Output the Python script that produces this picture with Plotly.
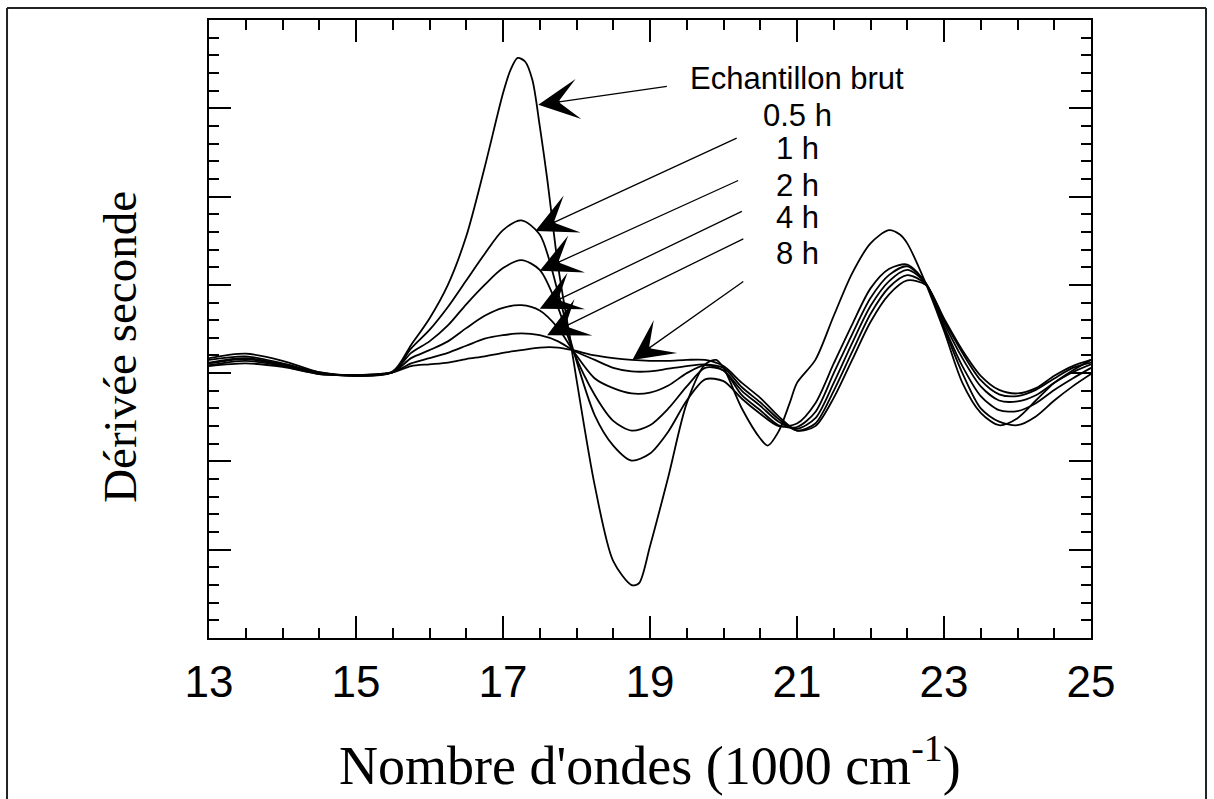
import plotly.graph_objects as go

# ---- data (wavenumber in 1000 cm-1, second derivative in arbitrary units) ----
x_common = [13.0, 13.5, 14.0, 14.5, 15.0, 15.5, 15.75, 16.0, 16.25, 16.5, 16.75, 17.0,
            17.25, 17.5, 17.75, 17.95, 18.25, 18.5, 18.75, 19.0, 19.25, 19.5, 19.75, 20.0,
            20.25, 20.5, 20.75, 21.0, 21.25, 21.5, 21.75, 22.0, 22.25, 22.5, 22.75, 23.0,
            23.25, 23.5, 23.75, 24.0, 24.25, 24.5, 24.75, 25.0]

raw_x = [13.0, 13.5, 14.0, 14.5, 15.0, 15.5, 15.75, 16.0, 16.25, 16.5, 16.75, 17.0,
         17.1, 17.2, 17.3, 17.4, 17.5, 17.6, 17.75, 17.9, 18.0, 18.25, 18.5, 18.75,
         18.85, 19.0, 19.25, 19.5, 19.75, 19.9, 20.0, 20.25, 20.5, 20.6, 20.75, 20.9,
         21.0, 21.25, 21.5, 21.75, 22.0, 22.25, 22.4, 22.5, 22.75, 23.0, 23.25, 23.5,
         23.75, 24.0, 24.25, 24.5, 24.75, 25.0]
raw_y = [0.17, 0.22, 0.14, 0.01, -0.03, 0.02, 0.32, 0.62, 1.00, 1.55, 2.33, 3.17,
         3.43, 3.57, 3.53, 3.32, 2.80, 2.21, 1.21, 0.45, -0.07, -1.28, -2.13, -2.40,
         -2.38, -1.96, -1.17, -0.34, 0.10, 0.15, 0.06, -0.40, -0.74, -0.82, -0.66, -0.34,
         -0.11, 0.15, 0.65, 1.13, 1.47, 1.62, 1.57, 1.47, 1.02, 0.48, -0.11, -0.45,
         -0.59, -0.51, -0.31, -0.11, 0.03, 0.15]

y_05h = [0.15, 0.19, 0.11, 0.01, -0.03, 0.01, 0.28, 0.49, 0.75, 1.05, 1.35, 1.62,
         1.73, 1.57, 0.91, 0.28, -0.48, -0.82, -0.99, -0.91, -0.66, -0.31, -0.07, -0.09,
         -0.29, -0.46, -0.60, -0.57, -0.34, 0.11, 0.55, 0.96, 1.18, 1.23, 1.02, 0.51,
         0.00, -0.40, -0.55, -0.59, -0.49, -0.31, -0.15, -0.01]
y_1h = [0.12, 0.17, 0.10, 0.00, -0.03, 0.01, 0.23, 0.36, 0.54, 0.78, 1.00, 1.19,
        1.28, 1.17, 0.74, 0.26, -0.25, -0.54, -0.65, -0.59, -0.40, -0.15, 0.06, 0.03,
        -0.25, -0.42, -0.59, -0.61, -0.44, 0.00, 0.44, 0.85, 1.11, 1.21, 1.02, 0.53,
        0.08, -0.26, -0.42, -0.43, -0.34, -0.19, -0.06, 0.06]
y_2h = [0.11, 0.16, 0.09, 0.00, -0.02, 0.01, 0.17, 0.26, 0.36, 0.51, 0.65, 0.74,
        0.77, 0.71, 0.51, 0.26, -0.06, -0.17, -0.23, -0.22, -0.14, 0.00, 0.09, 0.03,
        -0.20, -0.37, -0.55, -0.63, -0.51, -0.11, 0.34, 0.76, 1.04, 1.17, 1.02, 0.57,
        0.17, -0.15, -0.31, -0.32, -0.25, -0.11, 0.01, 0.10]
y_4h = [0.09, 0.14, 0.08, -0.01, -0.02, 0.01, 0.11, 0.17, 0.23, 0.31, 0.39, 0.43,
        0.45, 0.43, 0.36, 0.26, 0.15, 0.06, 0.02, 0.02, 0.05, 0.08, 0.10, 0.06,
        -0.16, -0.33, -0.52, -0.65, -0.57, -0.20, 0.24, 0.67, 0.97, 1.11, 1.01, 0.60,
        0.23, -0.08, -0.24, -0.26, -0.19, -0.06, 0.06, 0.12]
y_8h = [0.08, 0.11, 0.07, -0.01, -0.02, 0.01, 0.08, 0.10, 0.12, 0.16, 0.19, 0.23,
        0.26, 0.29, 0.29, 0.26, 0.20, 0.17, 0.15, 0.14, 0.14, 0.15, 0.15, 0.08,
        -0.11, -0.28, -0.49, -0.65, -0.60, -0.28, 0.15, 0.58, 0.89, 1.05, 1.00, 0.62,
        0.26, -0.03, -0.19, -0.23, -0.17, -0.03, 0.08, 0.15]

x_ticks = [13, 15, 17, 19, 21, 23, 25]

label_text = ["Echantillon brut", "0.5 h", "1 h", "2 h", "4 h", "8 h"]
label_x = [21.0, 21.0, 21.0, 21.0, 21.0, 21.0]
label_y = [3.34, 2.92, 2.55, 2.13, 1.76, 1.36]
arrow_tip_x = [17.48, 17.44, 17.50, 17.50, 17.60, 18.76]
arrow_tip_y = [3.04, 1.61, 1.16, 0.73, 0.43, 0.15]
arrow_tail_x = [19.25, 20.20, 20.22, 20.27, 20.29, 20.29]
arrow_tail_y = [3.25, 2.67, 2.19, 1.84, 1.53, 1.05]

# ---- figure ----
fig = go.Figure()
line_style = dict(color="black", width=1.8, shape="spline", smoothing=0.8)
fig.add_trace(go.Scatter(x=raw_x, y=raw_y, mode="lines", line=line_style, name="Echantillon brut"))
for name, ys in [("0.5 h", y_05h), ("1 h", y_1h), ("2 h", y_2h), ("4 h", y_4h), ("8 h", y_8h)]:
    fig.add_trace(go.Scatter(x=x_common, y=ys, mode="lines", line=line_style, name=name))

annotations = []
for t, lx, ly in zip(label_text, label_x, label_y):
    annotations.append(dict(x=lx, y=ly, xref="x", yref="y", text=t, showarrow=False,
                            font=dict(family="Liberation Sans, Arial, sans-serif", size=31, color="black"),
                            xanchor="center", yanchor="middle"))
for tx, ty, ax, ay in zip(arrow_tip_x, arrow_tip_y, arrow_tail_x, arrow_tail_y):
    annotations.append(dict(x=tx, y=ty, xref="x", yref="y", ax=ax, ay=ay, axref="x", ayref="y",
                            text="", showarrow=True, arrowhead=3, arrowsize=5.2, arrowwidth=1.3,
                            arrowcolor="black", standoff=0))
annotations.append(dict(x=-0.101, y=0.471, xref="paper", yref="paper", text="Dérivée seconde",
                        textangle=-90, showarrow=False,
                        font=dict(family="Liberation Serif, Times New Roman, serif", size=47, color="black"),
                        xanchor="center", yanchor="middle"))
annotations.append(dict(x=0.5, y=-0.20, xref="paper", yref="paper",
                        text="Nombre d'ondes (1000 cm<sup>-1</sup>)", showarrow=False,
                        font=dict(family="Liberation Serif, Times New Roman, serif", size=54, color="black"),
                        xanchor="center", yanchor="middle"))

frame = dict(color="#222", width=2)
shapes = [
    dict(type="line", xref="paper", yref="paper", x0=-0.229, x1=1.1304, y0=1.0194, y1=1.0194, line=frame),
    dict(type="line", xref="paper", yref="paper", x0=-0.229, x1=-0.229, y0=1.0194, y1=-0.27, line=frame),
    dict(type="line", xref="paper", yref="paper", x0=1.1304, x1=1.1304, y0=1.0194, y1=-0.27, line=frame),
]

fig.update_layout(
    width=1214, height=799,
    margin=dict(l=209, r=123, t=20, b=161),
    paper_bgcolor="white", plot_bgcolor="white",
    showlegend=False,
    annotations=annotations,
    shapes=shapes,
    xaxis=dict(range=[13, 25], tickvals=x_ticks, ticktext=[str(v) for v in x_ticks],
               showline=True, linecolor="black", linewidth=2, mirror="ticks",
               ticks="inside", ticklen=22, tickwidth=1.5, tickcolor="black",
               minor=dict(dtick=0.5, tick0=13, ticks="inside", ticklen=10, tickwidth=1.5, tickcolor="black"),
               showgrid=False, zeroline=False, ticklabelstandoff=4,
               tickfont=dict(family="Liberation Sans, Arial, sans-serif", size=44, color="black")),
    yaxis=dict(range=[-3, 4], dtick=1, tick0=0,
               showline=True, linecolor="black", linewidth=2, mirror="ticks",
               ticks="inside", ticklen=22, tickwidth=1.5, tickcolor="black",
               minor=dict(dtick=0.2, tick0=0, ticks="inside", ticklen=10, tickwidth=1.5, tickcolor="black"),
               showgrid=False, zeroline=False, showticklabels=False),
)

fig.write_html("out.html")
